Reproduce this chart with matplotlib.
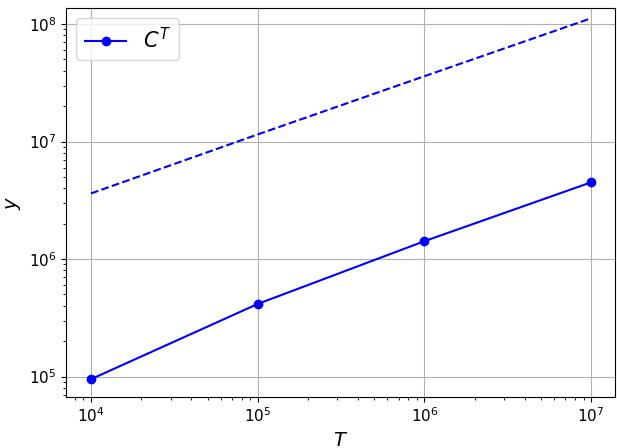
import matplotlib.pyplot as plt

T = [1e4, 1e5, 1e6, 1e7]
ct_values = [9.5e4, 4.15e5, 1.42e6, 4.5e6]
bound_values = [3.62e6, 1.15e7, 3.6e7, 1.12e8]

fig = plt.figure(figsize=(6.17, 4.48), dpi=100)
ax = fig.add_axes([66 / 617, 1 - 397 / 448, (615 - 66) / 617, (397 - 8) / 448])

ax.plot(T, ct_values, 'b-o', label=r'$C^T$')
ax.plot(T, bound_values, 'b--')
ax.set_xscale('log')
ax.set_yscale('log')
ax.set_xlim(7.08e3, 1.39e7)
ax.set_ylim(6.7e4, 1.37e8)
ax.set_xlabel(r'$T$', fontsize=14)
ax.set_ylabel(r'$y$', fontsize=14)
ax.tick_params(labelsize=11)
ax.grid(True)
ax.legend(fontsize=15, loc='upper left')

fig.savefig('out.png', dpi=100)
